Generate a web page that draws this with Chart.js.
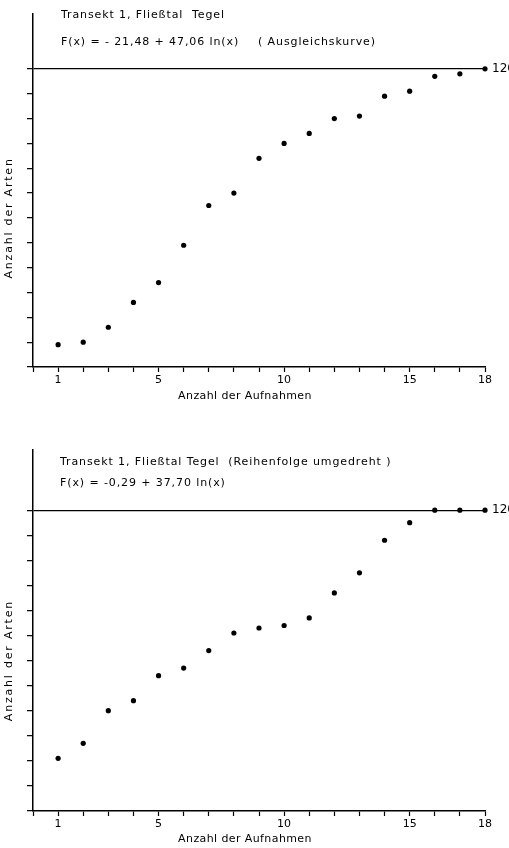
<!DOCTYPE html>
<html>
<head>
<meta charset="utf-8">
<script src="https://cdn.jsdelivr.net/npm/chart.js@4/dist/chart.umd.min.js"></script>
<style>
  body { margin: 0; background: #fff; }
  .box { position: absolute; left: 0; width: 509px; height: 424px; }
</style>
</head>
<body>
<div class="box" style="top:0"><canvas id="oben"></canvas></div>
<div class="box" style="top:424px"><canvas id="unten"></canvas></div>
<script>
// Anzahl der Aufnahmen (x) und Anzahl der Arten (y)
const aufnahmen = [1, 2, 3, 4, 5, 6, 7, 8, 9, 10, 11, 12, 13, 14, 15, 16, 17, 18];
const artenNormal = [9, 10, 16, 26, 34, 49, 65, 70, 84, 90, 94, 100, 101, 109, 111, 117, 118, 120];
const artenUmgedreht = [21, 27, 40, 44, 54, 57, 64, 71, 73, 74, 77, 87, 95, 108, 115, 120, 120, 120];
const xTickLabels = [1, 5, 10, 15, 18];
const yMaxTick = 120;

const schrift = '"DejaVu Sans", sans-serif';

// Texte im Diagramm (Kopfzeilen, Achsentitel)
const beschriftung = {
    id: 'beschriftung',
    afterDraw(chart, args, opts) {
        const { ctx, scales: { y } } = chart;
        ctx.save();
        ctx.fillStyle = '#000';
        ctx.font = '11px ' + schrift;
        ctx.textBaseline = 'middle';
        ctx.letterSpacing = '0.9px';
        opts.zeilen.forEach(z => ctx.fillText(z.text, z.x, z.y));

        // x-Titel
        ctx.textAlign = 'center';
        ctx.letterSpacing = '0.4px';
        ctx.fillText('Anzahl der Aufnahmen', 245, opts.xTitelY);

        // y-Titel, mittig zwischen 0 und 120
        const mitte = (y.getPixelForValue(0) + y.getPixelForValue(yMaxTick)) / 2;
        ctx.translate(9, mitte);
        ctx.rotate(-Math.PI / 2);
        ctx.letterSpacing = '1.8px';
        ctx.fillText('Anzahl der Arten', 0, 0);
        ctx.restore();
    }
};

function makeChart(id, werte, yMax, padTop, padBottom, zeilen, xTitelY) {
    const punkte = aufnahmen.map((a, i) => ({ x: a, y: werte[i] }));
    return new Chart(document.getElementById(id), {
        type: 'scatter',
        data: {
            datasets: [{
                data: punkte,
                pointRadius: 2.6,
                pointHoverRadius: 2.6,
                backgroundColor: '#000',
                borderWidth: 0,
                clip: false
            }]
        },
        options: {
            responsive: true,
            maintainAspectRatio: false,
            animation: false,
            layout: { padding: { top: padTop, bottom: padBottom, left: 0, right: 0 } },
            plugins: {
                legend: { display: false },
                tooltip: { enabled: false },
                beschriftung: { zeilen: zeilen, xTitelY: xTitelY }
            },
            scales: {
                x: {
                    type: 'linear',
                    min: 0,
                    max: 18,
                    afterFit: s => { s.height = 36; },
                    border: { color: '#000', width: 1.5 },
                    grid: { drawOnChartArea: false, tickLength: 5, tickColor: '#000', tickWidth: 1.2 },
                    ticks: {
                        stepSize: 1,
                        autoSkip: false,
                        maxRotation: 0,
                        padding: 2,
                        color: '#000',
                        font: { family: schrift, size: 11 },
                        callback: v => xTickLabels.includes(v) ? String(v) : ''
                    }
                },
                y: {
                    type: 'linear',
                    position: 'left',
                    min: 0,
                    max: yMax,
                    afterBuildTicks: s => { s.ticks = s.ticks.filter(t => t.value <= yMaxTick); },
                    afterFit: s => { s.width = 33; },
                    border: { color: '#000', width: 1.5 },
                    grid: {
                        color: c => (c.tick && c.tick.value === yMaxTick) ? '#000' : 'rgba(0,0,0,0)',
                        lineWidth: 1.3,
                        tickLength: 6,
                        tickColor: '#000',
                        tickWidth: 1.2
                    },
                    ticks: { display: false, stepSize: 10 }
                },
                y2: {
                    type: 'linear',
                    position: 'right',
                    min: 0,
                    max: yMax,
                    afterBuildTicks: s => { s.ticks = [{ value: yMaxTick }]; },
                    afterFit: s => { s.width = 24; },
                    border: { display: false },
                    grid: { display: false, drawTicks: false },
                    ticks: {
                        padding: 7,
                        color: '#000',
                        font: { family: schrift, size: 12 },
                        callback: v => String(v)
                    }
                }
            }
        },
        plugins: [beschriftung]
    });
}

makeChart('oben', artenNormal, 142, 13, 21, [
    { text: 'Transekt 1, Fließtal  Tegel', x: 61, y: 15 },
    { text: 'F(x) = - 21,48 + 47,06 ln(x)', x: 61, y: 42 },
    { text: '( Ausgleichskurve)', x: 258, y: 42 }
], 396);

makeChart('unten', artenUmgedreht, 144, 26, 1, [
    { text: 'Transekt 1, Fließtal Tegel  (Reihenfolge umgedreht )', x: 60, y: 38 },
    { text: 'F(x) = -0,29 + 37,70 ln(x)', x: 60, y: 59 }
], 415);
</script>
</body>
</html>
